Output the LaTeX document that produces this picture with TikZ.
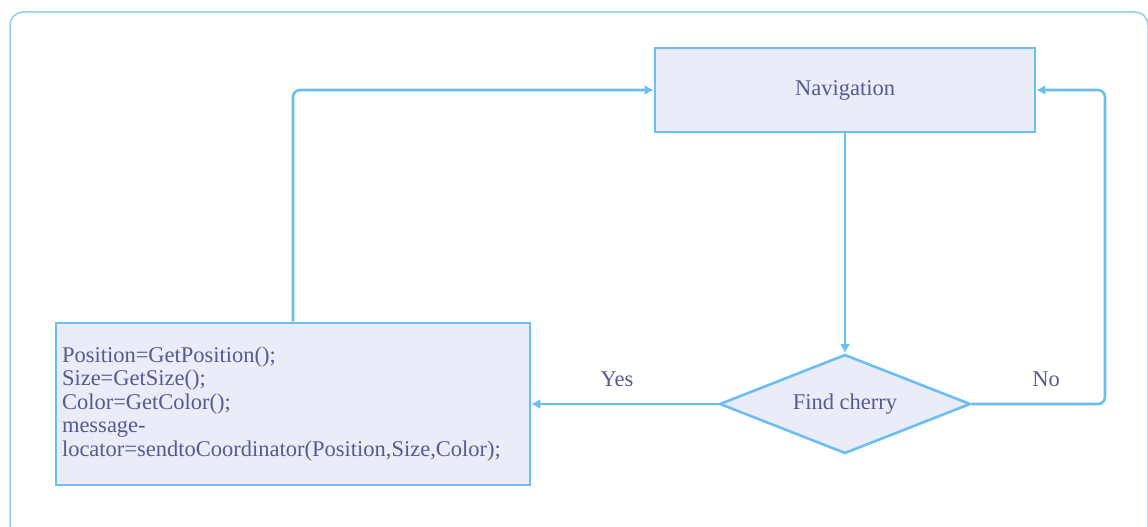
\documentclass[tikz,border=0pt]{standalone}
\usepackage{fontspec}
\setmainfont{Liberation Serif}
\usetikzlibrary{shapes.geometric,arrows.meta}
\definecolor{edgeblue}{HTML}{6CBEF2}
\definecolor{frameblue}{HTML}{8DCDF6}
\definecolor{boxfill}{HTML}{EAEDF7}
\definecolor{textink}{HTML}{545B91}
\tikzset{
  flowbox/.style={draw=edgeblue, line width=2.6pt, fill=boxfill, text=textink,
    font=\fontsize{22.5}{23.5}\selectfont, rectangle},
  decide/.style={draw=edgeblue, line width=2.6pt, fill=boxfill, text=textink,
    font=\fontsize{22.5}{23.5}\selectfont, diamond, aspect=2.54, inner sep=0pt,
    minimum width=251pt, minimum height=99pt},
  link/.style={draw=edgeblue, line width=2.6pt, rounded corners=7pt,
    -{Latex[length=9pt,width=10pt]}},
  tag/.style={text=textink, font=\fontsize{22.5}{23.5}\selectfont},
}
\begin{document}
\begin{tikzpicture}[x=1pt,y=-1pt]
  \useasboundingbox (0,0) rectangle (1148,527);
  \clip (0,0) rectangle (1148,527);
  % outer frame, running off the right and bottom edges
  \draw[frameblue, line width=1.5pt, rounded corners=13pt] (10,560) -- (10,12) -- (1148,12) -- (1148,560);

  \node[flowbox, minimum width=380pt, minimum height=84pt] (nav) at (845,90) {Navigation};
  \node[decide] (find) at (845,404) {Find cherry};
  \node[flowbox, minimum width=474pt, minimum height=162pt, text width=462pt,
        inner xsep=6pt, align=left] (code) at (293,404)
    {Position=GetPosition();\\Size=GetSize();\\Color=GetColor();\\message-\\locator=sendtoCoordinator(Position,Size,Color);};

  \coordinate (noturn) at (1105,404);

  \draw[link] (nav.south) -- (find.north);
  \draw[link] (find.west) -- (code.east);
  \draw[link] (code.north) |- (nav.west);
  \draw[link] (find.east) -- (noturn) |- (nav.east);

  \node[tag] (yes) at (617,379) {Yes};
  \node[tag] (no) at (1046,379) {No};
\end{tikzpicture}
\end{document}
